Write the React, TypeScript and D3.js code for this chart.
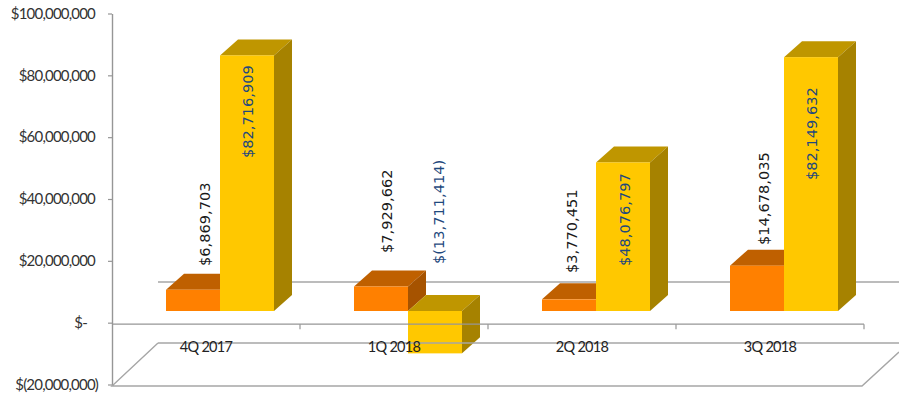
import React from "react";
import * as d3 from "d3";

const quarters = ["4Q 2017", "1Q 2018", "2Q 2018", "3Q 2018"];
const actualValues = [6869703, 7929662, 3770451, 14678035];
const changeValues = [82716909, -13711414, 48076797, 82149632];
const axisTicks = [100000000, 80000000, 60000000, 40000000, 20000000, 0, -20000000];

const fmtMoney = (v: number) => {
  if (v === 0) return "$-";
  const s = d3.format(",")(Math.abs(v));
  return v < 0 ? `$(${s})` : `$${s}`;
};

// Front-plane value scale; the axis itself sits further back, on the wall.
const yFront = d3.scaleLinear().domain([0, 100000000]).range([311, 2]);
const yAxis = d3.scaleLinear().domain([-20000000, 100000000]).range([385, 14]);
const xBand = d3.scalePoint<string>().domain(quarters).range([193, 757]);

const BAR_W = 54;
const DX = 18;
const DY = -16;
const GRID = "#A6A6A6";
const AXIS = "#969696";

type Shade = { front: string; top: string; side: string };
const ORANGE: Shade = { front: "#FF8000", top: "#BF6000", side: "#A65300" };
const YELLOW: Shade = { front: "#FFC800", top: "#BF9600", side: "#A68200" };

const poly = (pts: [number, number][]) => pts.map((p) => p.join(",")).join(" ");

function Bar3D({ x, value, shade }: { x: number; value: number; shade: Shade }) {
  const base = yFront(0);
  const v = yFront(value);
  const top = Math.min(base, v);
  const bottom = Math.max(base, v);
  const r = x + BAR_W;
  return (
    <g>
      <polygon points={poly([[x, top], [r, top], [r + DX, top + DY], [x + DX, top + DY]])} fill={shade.top} />
      <polygon points={poly([[r, top], [r + DX, top + DY], [r + DX, bottom + DY], [r, bottom]])} fill={shade.side} />
      <rect x={x} y={top} width={BAR_W} height={bottom - top} fill={shade.front} />
    </g>
  );
}

function VLabel({ x, y, text, fill }: { x: number; y: number; text: string; fill: string }) {
  return (
    <text
      transform={`translate(${x},${y}) rotate(-90)`}
      fontFamily="'DejaVu Sans', sans-serif"
      fontSize={14.6}
      fill={fill}
      dominantBaseline="middle"
    >
      {text}
    </text>
  );
}

// Anchor points of the rotated value labels, one per quarter.
const actualLabelY = [266, 253, 273, 245];
const changeLabelY = [158, 264, 266, 180];
const actualLabelDx = [13, 7, 4, 8];
const changeLabelDx = [56, 59, 57, 56];

export default function App() {
  const floorLeft = 112;
  const floorRight = 862;
  const zeroY = yAxis(0) + 1;
  const tickXs = [300, 488, 676, 864];

  return (
    <svg
      width={899}
      height={397}
      style={{ position: "absolute", left: 0, top: 0, display: "block", background: "#fff" }}
    >
      {/* back wall base line */}
      <line x1={158} x2={899} y1={282} y2={282} stroke={GRID} strokeWidth={1.4} />

      {/* value axis */}
      <line x1={112.5} x2={112.5} y1={14} y2={386} stroke={AXIS} strokeWidth={1.4} />
      {axisTicks.map((t) => (
        <g key={t}>
          <line x1={108} x2={112} y1={yAxis(t)} y2={yAxis(t)} stroke={AXIS} strokeWidth={1.2} />
          <text
            x={t === 0 ? 87 : t < 0 ? 98 : 95}
            y={yAxis(t) + 1}
            textAnchor="end"
            dominantBaseline="middle"
            fontFamily="Lato, sans-serif"
            fontSize={15}
            fill="#333"
            letterSpacing={-0.8}
          >
            {fmtMoney(t)}
          </text>
        </g>
      ))}

      {/* bars */}
      {quarters.map((q, i) => {
        const cx = xBand(q)!;
        return (
          <g key={q}>
            <Bar3D x={cx - BAR_W + 27} value={actualValues[i]} shade={ORANGE} />
            <Bar3D x={cx + 27} value={changeValues[i]} shade={YELLOW} />
          </g>
        );
      })}

      {/* floor outline and category axis pass in front of the bars */}
      <line x1={158} x2={899} y1={343} y2={343} stroke={GRID} strokeWidth={1.4} />
      <polyline
        points={poly([[899, 352], [floorRight, 386], [floorLeft, 386], [158, 343]])}
        fill="none"
        stroke={GRID}
        strokeWidth={1.4}
      />
      <line x1={floorLeft} x2={864} y1={zeroY} y2={zeroY} stroke={AXIS} strokeWidth={1.4} />
      {tickXs.map((x) => (
        <line key={x} x1={x} x2={x} y1={zeroY} y2={zeroY + 5} stroke={AXIS} strokeWidth={1.2} />
      ))}

      {quarters.map((q) => (
        <text
          key={q}
          x={xBand(q)! + 13}
          y={348}
          textAnchor="middle"
          dominantBaseline="middle"
          fontFamily="Lato, sans-serif"
          fontSize={14.5}
          fill="#222"
          letterSpacing={-0.7}
        >
          {q}
        </text>
      ))}

      {/* rotated value labels */}
      {quarters.map((q, i) => (
        <g key={q}>
          <VLabel x={xBand(q)! + actualLabelDx[i]} y={actualLabelY[i]} text={fmtMoney(actualValues[i])} fill="#1a1a1a" />
          <VLabel x={xBand(q)! + changeLabelDx[i]} y={changeLabelY[i]} text={fmtMoney(changeValues[i])} fill="#1F497D" />
        </g>
      ))}
    </svg>
  );
}
